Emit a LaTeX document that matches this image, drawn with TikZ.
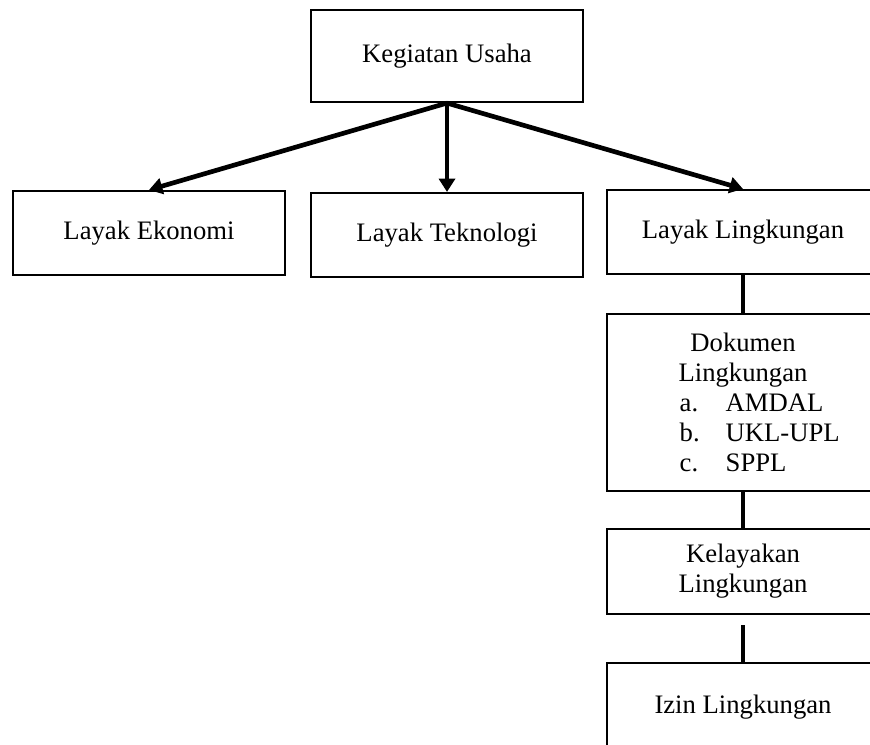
\documentclass[tikz,border=0pt]{standalone}
\usepackage{fontspec}
\setmainfont{Liberation Serif}
\usetikzlibrary{arrows.meta}
\newcommand{\listrow}[2]{\makebox[95pt][l]{\makebox[34.5pt][l]{#1}#2}}
\begin{document}
\begin{tikzpicture}[x=0.75pt,y=-0.75pt,
    box/.style={draw,line width=1.6pt,minimum width=204pt,inner sep=0pt,align=center,font=\fontsize{20}{22.5}\selectfont},
    arr/.style={line width=3.5pt,-{Triangle[length=10pt,width=12pt]}},
    link/.style={line width=3.5pt}]
        \clip (0,0) rectangle (870,744);
        \node[box,minimum height=69pt] (usaha) at (447,56) {Kegiatan Usaha};
        \node[box,minimum height=63pt] (ekonomi) at (149,233) {Layak Ekonomi};
        \node[box,minimum height=63pt] (teknologi) at (447,235) {Layak Teknologi};
        \node[box,minimum height=63pt] (lingkungan) at (743,232) {Layak Lingkungan};
        \node[box,minimum height=133pt] (dokumen) at (743,402.5) {Dokumen\\Lingkungan\\\listrow{a.}{AMDAL}\\\listrow{b.}{UKL-UPL}\\\listrow{c.}{SPPL}};
        \node[box,minimum height=64pt] (kelayakan) at (743,571.5) {Kelayakan\\Lingkungan};
        \node[box,minimum height=66pt] (izin) at (743,707) {Izin Lingkungan};
        \coordinate (kelgap) at ([yshift=-7.5pt]kelayakan.south);
        \draw[arr] (usaha.south) -- (ekonomi.north);
        \draw[arr] (usaha.south) -- (teknologi.north);
        \draw[arr] (usaha.south) -- (lingkungan.north);
        \draw[link] (lingkungan.south) -- (dokumen.north);
        \draw[link] (dokumen.south) -- (kelayakan.north);
        \draw[link] (kelgap) -- (izin.north);
\end{tikzpicture}
\end{document}
